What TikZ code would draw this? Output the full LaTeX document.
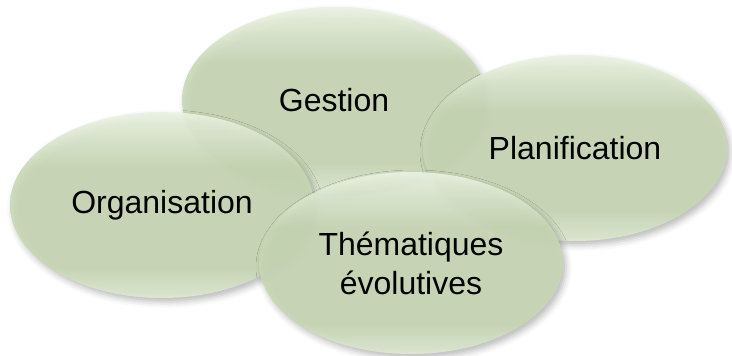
\documentclass[tikz,border=0pt]{standalone}
\usepackage{fontspec}
\setmainfont{Liberation Sans}
\usetikzlibrary{shapes.geometric,shadows.blur}
\definecolor{etop}{RGB}{236,244,227}
\definecolor{emid}{RGB}{200,216,181}
\definecolor{ebot}{RGB}{224,234,211}
\pgfdeclareverticalshading{ovalsh}{100bp}{color(0bp)=(ebot); color(25bp)=(ebot); color(33bp)=(emid); color(60bp)=(emid); color(75bp)=(etop); color(100bp)=(etop)}
\tikzset{
  oval/.style={ellipse, minimum width=304pt, minimum height=186pt, inner sep=0pt,
    shading=ovalsh, fill opacity=0.9, text opacity=1, align=center,
    font=\fontsize{32}{39}\selectfont,
    blur shadow={shadow xshift=3pt, shadow yshift=-4pt, shadow blur radius=6pt, shadow opacity=30}}
}
\begin{document}
\begin{tikzpicture}[x=1pt,y=-1pt]
\useasboundingbox (0,0) rectangle (732,356);
\node[oval] (gestion) at (334,100) {Gestion};
\node[oval] (planif) at (575,148) {Planification};
\node[oval] (organ) at (162,205) {Organisation};
\node[oval, minimum height=182pt] (thema) at (411,263) {Thématiques\\évolutives};
\end{tikzpicture}
\end{document}
